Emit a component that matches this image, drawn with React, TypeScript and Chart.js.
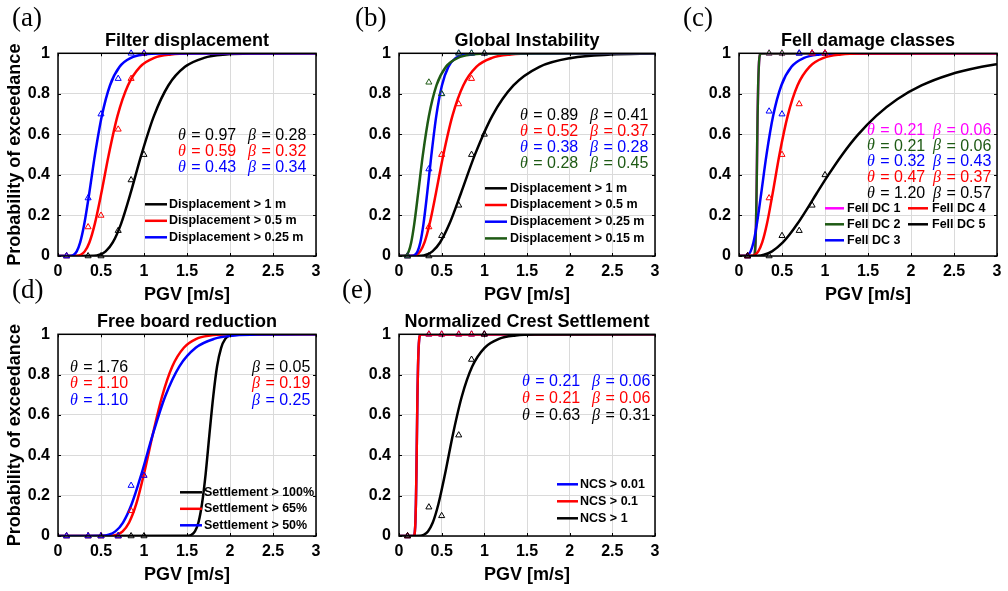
import React, { useEffect, useRef } from 'react';
import { Chart, registerables } from 'chart.js';

Chart.register(...registerables);

const SANS = '"Liberation Sans", Arial, Helvetica, sans-serif';
const SERIF = '"Liberation Serif", "Times New Roman", serif';

// ---------- shared axes ----------
const X_TICK_LABELS = ['0', '0.5', '1', '1.5', '2', '2.5', '3'];
const Y_TICK_LABELS = ['0', '0.2', '0.4', '0.6', '0.8', '1'];
const PGV_BINS = [0.1, 0.35, 0.5, 0.7, 0.85, 1.0];
const CDF_LEVELS = [0, 0.0013, 0.0062, 0.0228, 0.0668, 0.1587, 0.3085, 0.5, 0.6915, 0.8413, 0.9332, 0.9772, 0.9938, 0.9987, 1];

const BLACK = '#000000';
const RED = '#ff0000';
const BLUE = '#0000ff';
const GREEN = '#1e5a14';
const MAGENTA = '#ff00ff';

// ---------- (a) Filter displacement ----------
const A_LABELS = ['Displacement > 1 m', 'Displacement > 0.5 m', 'Displacement > 0.25 m'];
const A_THETA = [0.97, 0.59, 0.43];
const A_BETA = [0.28, 0.32, 0.34];
const A_OBS_1M = [0, 0, 0, 0.125, 0.375, 0.5];
const A_OBS_05M = [0, 0.143, 0.2, 0.625, 0.875, 1];
const A_OBS_025M = [0, 0.286, 0.7, 0.875, 1, 1];
const A_FIT_1M_X = [0, 0.419, 0.482, 0.554, 0.637, 0.733, 0.843, 0.97, 1.116, 1.283, 1.476, 1.698, 1.953, 2.247, 3];
const A_FIT_05M_X = [0, 0.226, 0.265, 0.311, 0.365, 0.428, 0.503, 0.59, 0.692, 0.813, 0.954, 1.119, 1.313, 1.541, 3];
const A_FIT_025M_X = [0, 0.155, 0.184, 0.218, 0.258, 0.306, 0.363, 0.43, 0.51, 0.604, 0.716, 0.849, 1.006, 1.193, 3];

// ---------- (b) Global Instability ----------
const B_LABELS = ['Displacement > 1 m', 'Displacement > 0.5 m', 'Displacement > 0.25 m', 'Displacement > 0.15 m'];
const B_THETA = [0.89, 0.52, 0.38, 0.28];
const B_BETA = [0.41, 0.37, 0.28, 0.45];
const B_OBS_1M = [0, 0, 0.1, 0.25, 0.5, 0.6];
const B_OBS_05M = [0, 0.143, 0.5, 0.75, 0.875, 1];
const B_OBS_025M = [0, 0.429, 0.8, 1, 1, 1];
const B_OBS_015M = [0, 0.857, 0.8, 1, 1, 1];
const B_FIT_1M_X = [0, 0.26, 0.319, 0.392, 0.481, 0.591, 0.725, 0.89, 1.093, 1.341, 1.646, 2.021, 2.481, 3];
const B_FIT_1M_Y = [0, 0.0013, 0.0062, 0.0228, 0.0668, 0.1587, 0.3085, 0.5, 0.6915, 0.8413, 0.9332, 0.9772, 0.9938, 0.9985];
const B_FIT_05M_X = [0, 0.171, 0.206, 0.248, 0.299, 0.359, 0.432, 0.52, 0.626, 0.753, 0.906, 1.09, 1.311, 1.578, 3];
const B_FIT_025M_X = [0, 0.164, 0.189, 0.217, 0.25, 0.287, 0.33, 0.38, 0.437, 0.503, 0.578, 0.665, 0.765, 0.88, 3];
const B_FIT_015M_X = [0, 0.073, 0.091, 0.114, 0.143, 0.179, 0.224, 0.28, 0.351, 0.439, 0.55, 0.689, 0.863, 1.08, 3];

// ---------- (c) Fell damage classes ----------
const C_LABELS = ['Fell DC 1', 'Fell DC 2', 'Fell DC 3', 'Fell DC 4', 'Fell DC 5'];
const C_THETA = [0.21, 0.21, 0.32, 0.47, 1.2];
const C_BETA = [0.06, 0.06, 0.43, 0.37, 0.57];
const C_OBS_DC1 = [0, 1, 1, 1, 1, 1];
const C_OBS_DC2 = [0, 1, 1, 1, 1, 1];
const C_OBS_DC3 = [0, 0.714, 0.7, 1, 1, 1];
const C_OBS_DC4 = [0, 0.286, 0.5, 0.75, 1, 1];
const C_OBS_DC5 = [0, 0, 0.1, 0.125, 0.25, 0.4];
const C_FIT_DC1_X = [0, 0.175, 0.181, 0.186, 0.192, 0.198, 0.204, 0.21, 0.216, 0.223, 0.23, 0.237, 0.244, 0.251, 3];
const C_FIT_DC2_X = [0, 0.175, 0.181, 0.186, 0.192, 0.198, 0.204, 0.21, 0.216, 0.223, 0.23, 0.237, 0.244, 0.251, 3];
const C_FIT_DC3_X = [0, 0.088, 0.109, 0.135, 0.168, 0.208, 0.258, 0.32, 0.397, 0.492, 0.61, 0.756, 0.938, 1.163, 3];
const C_FIT_DC4_X = [0, 0.155, 0.186, 0.224, 0.27, 0.325, 0.391, 0.47, 0.566, 0.68, 0.819, 0.985, 1.185, 1.426, 3];
const C_FIT_DC5_X = [0, 0.217, 0.289, 0.384, 0.51, 0.588, 0.679, 0.783, 0.902, 1.041, 1.2, 1.384, 1.596, 1.84, 2.122, 2.447, 2.822, 3];
const C_FIT_DC5_Y = [0, 0.0013, 0.0062, 0.0228, 0.0668, 0.1056, 0.1587, 0.2266, 0.3085, 0.4013, 0.5, 0.5987, 0.6915, 0.7734, 0.8413, 0.8944, 0.9332, 0.946];

// ---------- (d) Free board reduction ----------
const D_LABELS = ['Settlement > 100%', 'Settlement > 65%', 'Settlement > 50%'];
const D_THETA = [1.76, 1.1, 1.1];
const D_BETA = [0.05, 0.19, 0.25];
const D_OBS_100 = [0, 0, 0, 0, 0, 0];
const D_OBS_65 = [0, 0, 0, 0, 0.125, 0.3];
const D_OBS_50 = [0, 0, 0, 0, 0.25, 0.3];
const D_FIT_100_X = [0, 1.515, 1.553, 1.592, 1.633, 1.674, 1.717, 1.76, 1.805, 1.85, 1.897, 1.945, 1.994, 2.045, 3];
const D_FIT_65_X = [0, 0.622, 0.684, 0.752, 0.827, 0.91, 1.0, 1.1, 1.21, 1.33, 1.463, 1.609, 1.769, 1.945, 3];
const D_FIT_50_X = [0, 0.52, 0.589, 0.667, 0.756, 0.857, 0.971, 1.1, 1.246, 1.412, 1.601, 1.814, 2.055, 2.329, 3];

// ---------- (e) Normalized Crest Settlement ----------
const E_LABELS = ['NCS > 0.01', 'NCS > 0.1', 'NCS > 1'];
const E_THETA = [0.21, 0.21, 0.63];
const E_BETA = [0.06, 0.06, 0.31];
const E_OBS_001 = [0, 1, 1, 1, 1, 1];
const E_OBS_01 = [0, 1, 1, 1, 1, 1];
const E_OBS_1 = [0, 0.143, 0.1, 0.5, 0.875, 1];
const E_FIT_001_X = [0, 0.175, 0.181, 0.186, 0.192, 0.198, 0.204, 0.21, 0.216, 0.223, 0.23, 0.237, 0.244, 0.251, 3];
const E_FIT_01_X = [0, 0.175, 0.181, 0.186, 0.192, 0.198, 0.204, 0.21, 0.216, 0.223, 0.23, 0.237, 0.244, 0.251, 3];
const E_FIT_1_X = [0, 0.249, 0.29, 0.339, 0.396, 0.462, 0.54, 0.63, 0.736, 0.859, 1.003, 1.171, 1.368, 1.597, 3];

type Series = { label: string; color: string; fitX: number[]; fitY: number[]; obs: number[] };
type LegendCol = { lineX0: number; lineX1: number; textX: number };
type PanelSpec = {
  letter: string;
  letterPos: { left: number; top: number };
  title: string;
  box: { left: number; top: number; width: number; height: number };
  plotWidth: number;
  yTitle: boolean;
  series: Series[];
  theta: number[];
  beta: number[];
  ann: { thetaX: number; betaX: number; y0: number; dy: number };
  legend: { cols: LegendCol[]; rowsPerCol: number; y0: number; dy: number };
};

const mk = (labels: string[], colors: string[], fx: number[][], fy: number[][], obs: number[][]): Series[] =>
  labels.map((label, i) => ({ label, color: colors[i], fitX: fx[i], fitY: fy[i], obs: obs[i] }));

const PANELS: PanelSpec[] = [
  {
    letter: '(a)', letterPos: { left: 12, top: 4 }, title: 'Filter displacement',
    box: { left: 0, top: 28, width: 330, height: 278 }, plotWidth: 258, yTitle: true,
    series: mk(A_LABELS, [BLACK, RED, BLUE], [A_FIT_1M_X, A_FIT_05M_X, A_FIT_025M_X],
      [CDF_LEVELS, CDF_LEVELS, CDF_LEVELS], [A_OBS_1M, A_OBS_05M, A_OBS_025M]),
    theta: A_THETA, beta: A_BETA,
    ann: { thetaX: 120, betaX: 190, y0: 82, dy: 16 },
    legend: { cols: [{ lineX0: 87, lineX1: 109, textX: 111 }], rowsPerCol: 3, y0: 151, dy: 16.5 },
  },
  {
    letter: '(b)', letterPos: { left: 355, top: 4 }, title: 'Global Instability',
    box: { left: 341, top: 28, width: 328, height: 278 }, plotWidth: 256, yTitle: false,
    series: mk(B_LABELS, [BLACK, RED, BLUE, GREEN], [B_FIT_1M_X, B_FIT_05M_X, B_FIT_025M_X, B_FIT_015M_X],
      [B_FIT_1M_Y, CDF_LEVELS, CDF_LEVELS, CDF_LEVELS], [B_OBS_1M, B_OBS_05M, B_OBS_025M, B_OBS_015M]),
    theta: B_THETA, beta: B_BETA,
    ann: { thetaX: 121, betaX: 191, y0: 62, dy: 16 },
    legend: { cols: [{ lineX0: 86, lineX1: 108, textX: 111 }], rowsPerCol: 4, y0: 135, dy: 16.7 },
  },
  {
    letter: '(c)', letterPos: { left: 683, top: 4 }, title: 'Fell damage classes',
    box: { left: 681, top: 28, width: 327, height: 278 }, plotWidth: 258, yTitle: false,
    series: mk(C_LABELS, [MAGENTA, GREEN, BLUE, RED, BLACK],
      [C_FIT_DC1_X, C_FIT_DC2_X, C_FIT_DC3_X, C_FIT_DC4_X, C_FIT_DC5_X],
      [CDF_LEVELS, CDF_LEVELS, CDF_LEVELS, CDF_LEVELS, C_FIT_DC5_Y],
      [C_OBS_DC1, C_OBS_DC2, C_OBS_DC3, C_OBS_DC4, C_OBS_DC5]),
    theta: C_THETA, beta: C_BETA,
    ann: { thetaX: 128, betaX: 194, y0: 77, dy: 15.8 },
    legend: { cols: [{ lineX0: 86, lineX1: 105, textX: 108 }, { lineX0: 169, lineX1: 189, textX: 193 }], rowsPerCol: 3, y0: 155, dy: 16 },
  },
  {
    letter: '(d)', letterPos: { left: 12, top: 276 }, title: 'Free board reduction',
    box: { left: 0, top: 309, width: 330, height: 277 }, plotWidth: 258, yTitle: true,
    series: mk(D_LABELS, [BLACK, RED, BLUE], [D_FIT_100_X, D_FIT_65_X, D_FIT_50_X],
      [CDF_LEVELS, CDF_LEVELS, CDF_LEVELS], [D_OBS_100, D_OBS_65, D_OBS_50]),
    theta: D_THETA, beta: D_BETA,
    ann: { thetaX: 12, betaX: 194, y0: 33, dy: 16.5 },
    legend: { cols: [{ lineX0: 122, lineX1: 144, textX: 146 }], rowsPerCol: 3, y0: 158, dy: 16.5 },
  },
  {
    letter: '(e)', letterPos: { left: 342, top: 276 }, title: 'Normalized Crest Settlement',
    box: { left: 341, top: 309, width: 328, height: 277 }, plotWidth: 256, yTitle: false,
    series: mk(E_LABELS, [BLUE, RED, BLACK], [E_FIT_001_X, E_FIT_01_X, E_FIT_1_X],
      [CDF_LEVELS, CDF_LEVELS, CDF_LEVELS], [E_OBS_001, E_OBS_01, E_OBS_1]),
    theta: E_THETA, beta: E_BETA,
    ann: { thetaX: 123, betaX: 193, y0: 47, dy: 17 },
    legend: { cols: [{ lineX0: 158, lineX1: 179, textX: 181 }], rowsPerCol: 3, y0: 150, dy: 17 },
  },
];

const Y_AXIS_WIDTH = 58;
const X_AXIS_HEIGHT = 50;

function drawSymbolText(ctx: CanvasRenderingContext2D, sym: string, rest: string, x: number, y: number) {
  ctx.font = `italic 16px ${SERIF}`;
  ctx.fillText(sym, x, y);
  const w = ctx.measureText(sym).width;
  ctx.font = `16px ${SANS}`;
  ctx.fillText(rest, x + w + 1, y);
}

function makeDecor(spec: PanelSpec) {
  return {
    id: 'panelDecor',
    afterDraw(chart: any) {
      const ctx: CanvasRenderingContext2D = chart.ctx;
      const a = chart.chartArea;
      const xs = chart.scales.x;
      const ys = chart.scales.y;
      ctx.save();
      // inward tick marks
      ctx.strokeStyle = '#000';
      ctx.lineWidth = 1;
      ctx.beginPath();
      xs.ticks.forEach((t: any) => {
        const px = Math.round(xs.getPixelForValue(t.value)) + 0.5;
        ctx.moveTo(px, a.bottom); ctx.lineTo(px, a.bottom - 3);
        ctx.moveTo(px, a.top); ctx.lineTo(px, a.top + 3);
      });
      ys.ticks.forEach((t: any) => {
        const py = Math.round(ys.getPixelForValue(t.value)) + 0.5;
        ctx.moveTo(a.left, py); ctx.lineTo(a.left + 3, py);
        ctx.moveTo(a.right, py); ctx.lineTo(a.right - 3, py);
      });
      ctx.stroke();
      // axes box
      ctx.lineWidth = 1.5;
      ctx.strokeRect(a.left, a.top, a.right - a.left, a.bottom - a.top);

      // theta / beta annotation
      ctx.textBaseline = 'middle';
      ctx.textAlign = 'left';
      spec.theta.forEach((th, i) => {
        const y = a.top + spec.ann.y0 + i * spec.ann.dy;
        ctx.fillStyle = spec.series[i].color;
        drawSymbolText(ctx, 'θ', ' = ' + th.toFixed(2), a.left + spec.ann.thetaX, y);
        drawSymbolText(ctx, 'β', ' = ' + spec.beta[i].toFixed(2), a.left + spec.ann.betaX, y);
      });

      // legend
      const lg = spec.legend;
      spec.series.forEach((s, i) => {
        const col = lg.cols[Math.floor(i / lg.rowsPerCol)];
        const row = i % lg.rowsPerCol;
        const y = a.top + lg.y0 + row * lg.dy;
        ctx.strokeStyle = s.color;
        ctx.lineWidth = 2.5;
        ctx.beginPath();
        ctx.moveTo(a.left + col.lineX0, y);
        ctx.lineTo(a.left + col.lineX1, y);
        ctx.stroke();
        ctx.fillStyle = '#000';
        ctx.font = `bold 12.5px ${SANS}`;
        ctx.fillText(s.label, a.left + col.textX, y);
      });
      ctx.restore();
    },
  };
}

function buildConfig(spec: PanelSpec): any {
  const n = spec.series.length;
  const curves = spec.series.map((s, i) => ({
    type: 'line',
    label: s.label,
    data: s.fitX.map((x, j) => ({ x, y: s.fitY[j] })),
    borderColor: s.color,
    borderWidth: 2.5,
    pointRadius: 0,
    fill: false,
    cubicInterpolationMode: 'monotone',
    order: 40 - i,
  }));
  const obs = spec.series.map((s, i) => ({
    type: 'line',
    label: s.label + ' data',
    data: PGV_BINS.map((x, j) => ({ x, y: s.obs[j] })),
    showLine: false,
    borderColor: s.color,
    backgroundColor: 'rgba(0,0,0,0)',
    pointStyle: 'triangle',
    pointRadius: 3.5,
    pointBorderWidth: 1,
    pointBorderColor: s.color,
    pointBackgroundColor: 'rgba(0,0,0,0)',
    clip: false,
    order: 20 - i - n,
  }));
  const tickFont = { family: SANS, size: 16, weight: 'bold' as const };
  const titleFont = { family: SANS, size: 18, weight: 'bold' as const };
  const grid = { color: '#dadada', lineWidth: 1, drawTicks: false };
  return {
    type: 'line',
    data: { datasets: [...curves, ...obs] },
    options: {
      responsive: false,
      animation: false,
      devicePixelRatio: 1,
      events: [],
      layout: { padding: { left: 0, top: 0, bottom: 0, right: spec.box.width - Y_AXIS_WIDTH - spec.plotWidth } },
      plugins: {
        legend: { display: false },
        tooltip: { enabled: false },
        title: {
          display: true,
          text: spec.title,
          fullSize: false,
          color: '#000',
          font: titleFont,
          padding: { top: 2.7, bottom: 1 },
        },
      },
      scales: {
        x: {
          type: 'linear',
          min: 0,
          max: 3,
          grid,
          border: { display: false },
          ticks: {
            stepSize: 0.5,
            autoSkip: false,
            maxRotation: 0,
            padding: 6,
            color: '#000',
            font: tickFont,
            callback: (_v: any, i: number) => X_TICK_LABELS[i],
          },
          title: { display: true, text: 'PGV [m/s]', color: '#000', font: titleFont, padding: { top: 0, bottom: 0 } },
          afterFit: (s: any) => { s.height = X_AXIS_HEIGHT; },
        },
        y: {
          type: 'linear',
          min: 0,
          max: 1,
          grid,
          border: { display: false },
          ticks: {
            stepSize: 0.2,
            padding: 8,
            color: '#000',
            font: tickFont,
            callback: (_v: any, i: number) => Y_TICK_LABELS[i],
          },
          title: {
            display: spec.yTitle,
            text: 'Probability of exceedance',
            color: '#000',
            font: titleFont,
            padding: { top: 4.2, bottom: 0 },
          },
          afterFit: (s: any) => { s.width = Y_AXIS_WIDTH; },
        },
      },
    },
    plugins: [makeDecor(spec)],
  };
}

function Panel({ spec }: { spec: PanelSpec }) {
  const ref = useRef<HTMLCanvasElement>(null);
  useEffect(() => {
    if (!ref.current) return;
    const chart = new Chart(ref.current, buildConfig(spec));
    return () => chart.destroy();
  }, [spec]);
  return (
    <>
      <canvas
        ref={ref}
        width={spec.box.width}
        height={spec.box.height}
        style={{ position: 'absolute', left: spec.box.left, top: spec.box.top, width: spec.box.width, height: spec.box.height }}
      />
      <div
        style={{
          position: 'absolute',
          left: spec.letterPos.left,
          top: spec.letterPos.top,
          fontFamily: SERIF,
          fontSize: 27,
          lineHeight: '27px',
          color: '#000',
          whiteSpace: 'nowrap',
        }}
      >
        {spec.letter}
      </div>
    </>
  );
}

export default function App() {
  return (
    <div style={{ position: 'absolute', left: 0, top: 0, width: 1008, height: 591, background: '#fff', overflow: 'hidden' }}>
      {PANELS.map((p) => (
        <Panel key={p.letter} spec={p} />
      ))}
    </div>
  );
}
